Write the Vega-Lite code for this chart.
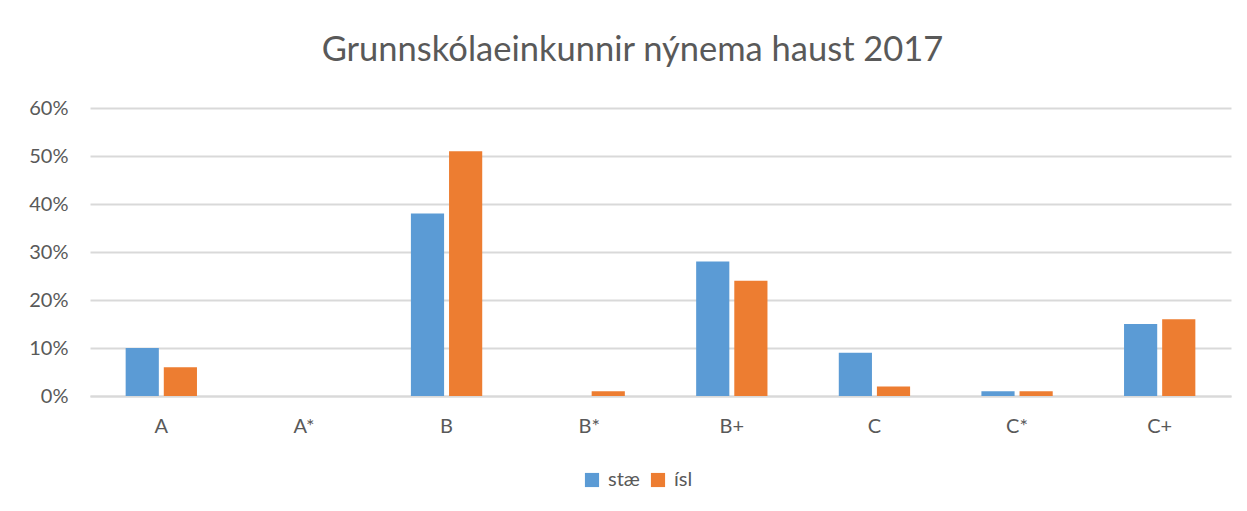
{
  "$schema": "https://vega.github.io/schema/vega-lite/v6.json",
  "autosize": "none",
  "width": 1141,
  "height": 288,
  "padding": {"left": 90, "top": 108, "right": 16, "bottom": 115},
  "background": "white",
  "config": {
    "font": "Lato",
    "view": {"stroke": null}
  },
  "title": {
    "text": "Grunnskólaeinkunnir nýnema haust 2017",
    "fontSize": 34.5,
    "font": "Lato",
    "fontWeight": "normal",
    "color": "#595959",
    "anchor": "middle",
    "dx": -28,
    "offset": 30
  },
  "data": {
    "values": [
      {"cat": "A", "series": "stæ", "value": 0.10},
      {"cat": "A", "series": "ísl", "value": 0.06},
      {"cat": "A*", "series": "stæ", "value": 0},
      {"cat": "A*", "series": "ísl", "value": 0},
      {"cat": "B", "series": "stæ", "value": 0.38},
      {"cat": "B", "series": "ísl", "value": 0.51},
      {"cat": "B*", "series": "stæ", "value": 0},
      {"cat": "B*", "series": "ísl", "value": 0.01},
      {"cat": "B+", "series": "stæ", "value": 0.28},
      {"cat": "B+", "series": "ísl", "value": 0.24},
      {"cat": "C", "series": "stæ", "value": 0.09},
      {"cat": "C", "series": "ísl", "value": 0.02},
      {"cat": "C*", "series": "stæ", "value": 0.01},
      {"cat": "C*", "series": "ísl", "value": 0.01},
      {"cat": "C+", "series": "stæ", "value": 0.15},
      {"cat": "C+", "series": "ísl", "value": 0.16}
    ]
  },
  "mark": {"type": "bar"},
  "encoding": {
    "x": {
      "field": "cat",
      "type": "nominal",
      "sort": ["A", "A*", "B", "B*", "B+", "C", "C*", "C+"],
      "scale": {"paddingInner": 0.5, "paddingOuter": 0.25},
      "axis": {
        "title": null,
        "labelAngle": 0,
        "labelFontSize": 20,
        "labelColor": "#595959",
        "labelPadding": 20,
        "ticks": false,
        "domainColor": "#d9d9d9",
        "domainWidth": 2
      }
    },
    "xOffset": {
      "field": "series",
      "type": "nominal",
      "sort": ["stæ", "ísl"],
      "scale": {"paddingInner": 0.13}
    },
    "y": {
      "field": "value",
      "type": "quantitative",
      "scale": {"domain": [0, 0.6]},
      "axis": {
        "title": null,
        "format": ".0%",
        "values": [0, 0.1, 0.2, 0.3, 0.4, 0.5, 0.6],
        "labelOverlap": false,
        "labelFontSize": 20,
        "labelColor": "#595959",
        "labelPadding": 22,
        "ticks": false,
        "domain": false,
        "gridColor": "#d9d9d9",
        "gridWidth": 2
      }
    },
    "color": {
      "field": "series",
      "type": "nominal",
      "sort": ["stæ", "ísl"],
      "scale": {"domain": ["stæ", "ísl"], "range": ["#5b9bd5", "#ed7d31"]},
      "legend": {
        "title": null,
        "orient": "none",
        "legendX": 492,
        "legendY": 362,
        "direction": "horizontal",
        "symbolType": "square",
        "symbolSize": 200,
        "symbolStrokeWidth": 0,
        "labelFontSize": 20,
        "labelColor": "#595959",
        "columnPadding": 8,
        "labelOffset": 6
      }
    }
  }
}
